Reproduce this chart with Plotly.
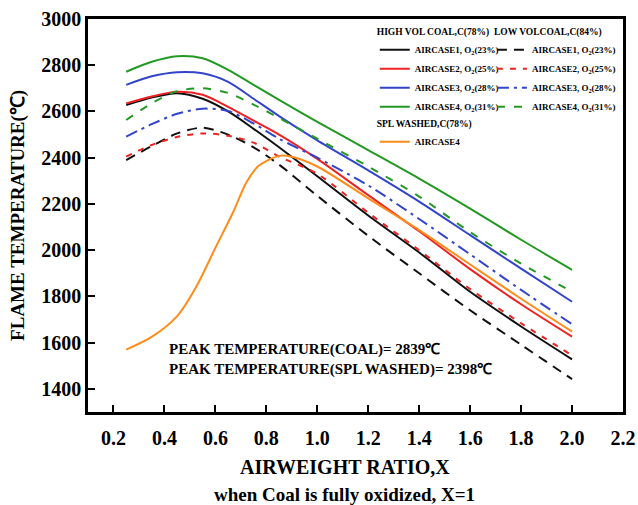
import plotly.graph_objects as go

x = [0.25, 0.35, 0.45, 0.55, 0.65, 0.75, 0.85, 1.0, 1.2, 1.4, 1.6, 1.8, 2.0]

# HIGH VOL COAL (solid)
hv_case1 = [2628, 2660, 2679, 2655, 2600, 2525, 2445, 2320, 2150, 1990, 1820, 1670, 1528]
hv_case2 = [2635, 2665, 2685, 2672, 2620, 2560, 2500, 2395, 2238, 2082, 1918, 1766, 1626]
hv_case3 = [2715, 2752, 2770, 2765, 2728, 2655, 2580, 2475, 2345, 2210, 2065, 1920, 1777]
hv_case4 = [2772, 2815, 2839, 2830, 2780, 2715, 2650, 2555, 2433, 2310, 2180, 2045, 1915]

# LOW VOL COAL (dashed)
lv_case1 = [2390, 2450, 2505, 2530, 2500, 2445, 2370, 2235, 2062, 1900, 1740, 1591, 1442]
lv_case2 = [2405, 2455, 2490, 2505, 2495, 2465, 2405, 2330, 2162, 2000, 1832, 1684, 1545]
lv_case3 = [2491, 2545, 2590, 2612, 2602, 2548, 2482, 2400, 2280, 2135, 1982, 1828, 1680]
lv_case4 = [2563, 2635, 2688, 2700, 2680, 2630, 2572, 2482, 2362, 2232, 2078, 1942, 1821]

# SPL WASHED
spl_x = [0.25, 0.35, 0.45, 0.525, 0.6, 0.67, 0.72, 0.77, 0.85, 0.9, 1.0, 1.2, 1.4, 1.6, 1.8, 2.0]
spl_case4 = [1570, 1625, 1715, 1842, 2010, 2165, 2290, 2365, 2408, 2404, 2362, 2224, 2087, 1938, 1790, 1648]

x_ticks = [0.2, 0.4, 0.6, 0.8, 1.0, 1.2, 1.4, 1.6, 1.8, 2.0, 2.2]
y_ticks = [1400, 1600, 1800, 2000, 2200, 2400, 2600, 2800, 3000]

colors = {"1": "#111111", "2": "#ee2222", "3": "#3344cc", "4": "#229922"}
pcts = {"1": "23", "2": "25", "3": "28", "4": "31"}
FONT = "Liberation Serif"

fig = go.Figure()

hv = {"1": hv_case1, "2": hv_case2, "3": hv_case3, "4": hv_case4}
lv = {"1": lv_case1, "2": lv_case2, "3": lv_case3, "4": lv_case4}
lv_dash = {"1": "10px,7px", "2": "6px,7px", "3": "12px,5px,3px,5px", "4": "8px,9px"}

for k in ["1", "2", "3", "4"]:
    fig.add_trace(go.Scatter(
        x=x, y=hv[k], mode="lines", line=dict(color=colors[k], width=2, shape="spline", smoothing=0.8),
        name=f"AIRCASE{k}, O<sub>2</sub>({pcts[k]}%)", legend="legend"))
for k in ["1", "2", "3", "4"]:
    fig.add_trace(go.Scatter(
        x=x, y=lv[k], mode="lines",
        line=dict(color=colors[k], width=2, dash=lv_dash[k], shape="spline", smoothing=0.8),
        name=f"AIRCASE{k}, O<sub>2</sub>({pcts[k]}%)", legend="legend2"))
fig.add_trace(go.Scatter(
    x=spl_x, y=spl_case4, mode="lines", line=dict(color="#ff8c1a", width=2, shape="spline", smoothing=0.8),
    name="AIRCASE4", legend="legend3"))

legend_common = dict(
    bgcolor="rgba(0,0,0,0)", borderwidth=0,
    font=dict(family=FONT, size=9, color="black", weight="bold"),
    itemwidth=30, tracegroupgap=0, yanchor="top", xanchor="left",
)
title_font = dict(family=FONT, size=9.5, color="black", weight="bold")

fig.update_layout(
    width=638, height=505,
    margin=dict(l=88, r=15, t=19, b=93, autoexpand=False),
    plot_bgcolor="white", paper_bgcolor="white",
    font=dict(family=FONT, color="black"),
    showlegend=True,
    legend=dict(x=0.536, y=0.99, title=dict(text="<b>HIGH VOL COAL,C(78%)</b>", font=title_font), **legend_common),
    legend2=dict(x=0.755, y=0.99, title=dict(text="<b>LOW VOLCOAL,C(84%)</b>", font=title_font), **legend_common),
    legend3=dict(x=0.536, y=0.756, title=dict(text="<b>SPL WASHED,C(78%)</b>", font=title_font), **legend_common),
    hovermode=False,
)

fig.update_xaxes(
    range=[0.1, 2.2], tickvals=x_ticks, ticktext=[f"{v:.1f}" for v in x_ticks],
    showgrid=False, zeroline=False, automargin=False,
    showline=True, linecolor="black", linewidth=2.5, mirror=True,
    ticks="inside", ticklen=7, tickwidth=2, tickcolor="black", ticklabelstandoff=6,
    tickfont=dict(family=FONT, size=20, weight="bold", color="black"),
)
fig.update_yaxes(
    range=[1300, 3000], tickvals=y_ticks,
    showgrid=False, zeroline=False, automargin=False,
    showline=True, linecolor="black", linewidth=2.5, mirror=True,
    ticks="inside", ticklen=7, tickwidth=2, tickcolor="black",
    tickfont=dict(family=FONT, size=20, weight="bold", color="black"),
)

# axis titles
fig.add_annotation(xref="paper", yref="paper", x=0.48, y=-0.140, showarrow=False,
                   xanchor="center", yanchor="middle", text="<b>AIRWEIGHT RATIO,X</b>",
                   font=dict(family=FONT, size=20, color="black"))
fig.add_annotation(xref="paper", yref="paper", x=0.48, y=-0.210, showarrow=False,
                   xanchor="center", yanchor="middle", text="<b>when Coal is fully oxidized, X=1</b>",
                   font=dict(family=FONT, size=19, color="black"))
fig.add_annotation(xref="paper", yref="paper", x=-0.132, y=0.5, showarrow=False, textangle=-90,
                   xanchor="center", yanchor="middle", text="<b>FLAME TEMPERATURE(℃)</b>",
                   font=dict(family=FONT, size=19, color="black"))

fig.add_annotation(
    xref="x", yref="y", x=0.41, y=1525, xanchor="left", yanchor="middle", showarrow=False, align="left",
    text="<b>PEAK TEMPERATURE(COAL)= 2839℃<br>PEAK TEMPERATURE(SPL WASHED)= 2398℃</b>",
    font=dict(family=FONT, size=15, color="black"),
)

fig.write_html("out.html", config={"displayModeBar": False},
               post_script="document.body.style.margin='0';document.body.style.padding='0';")
